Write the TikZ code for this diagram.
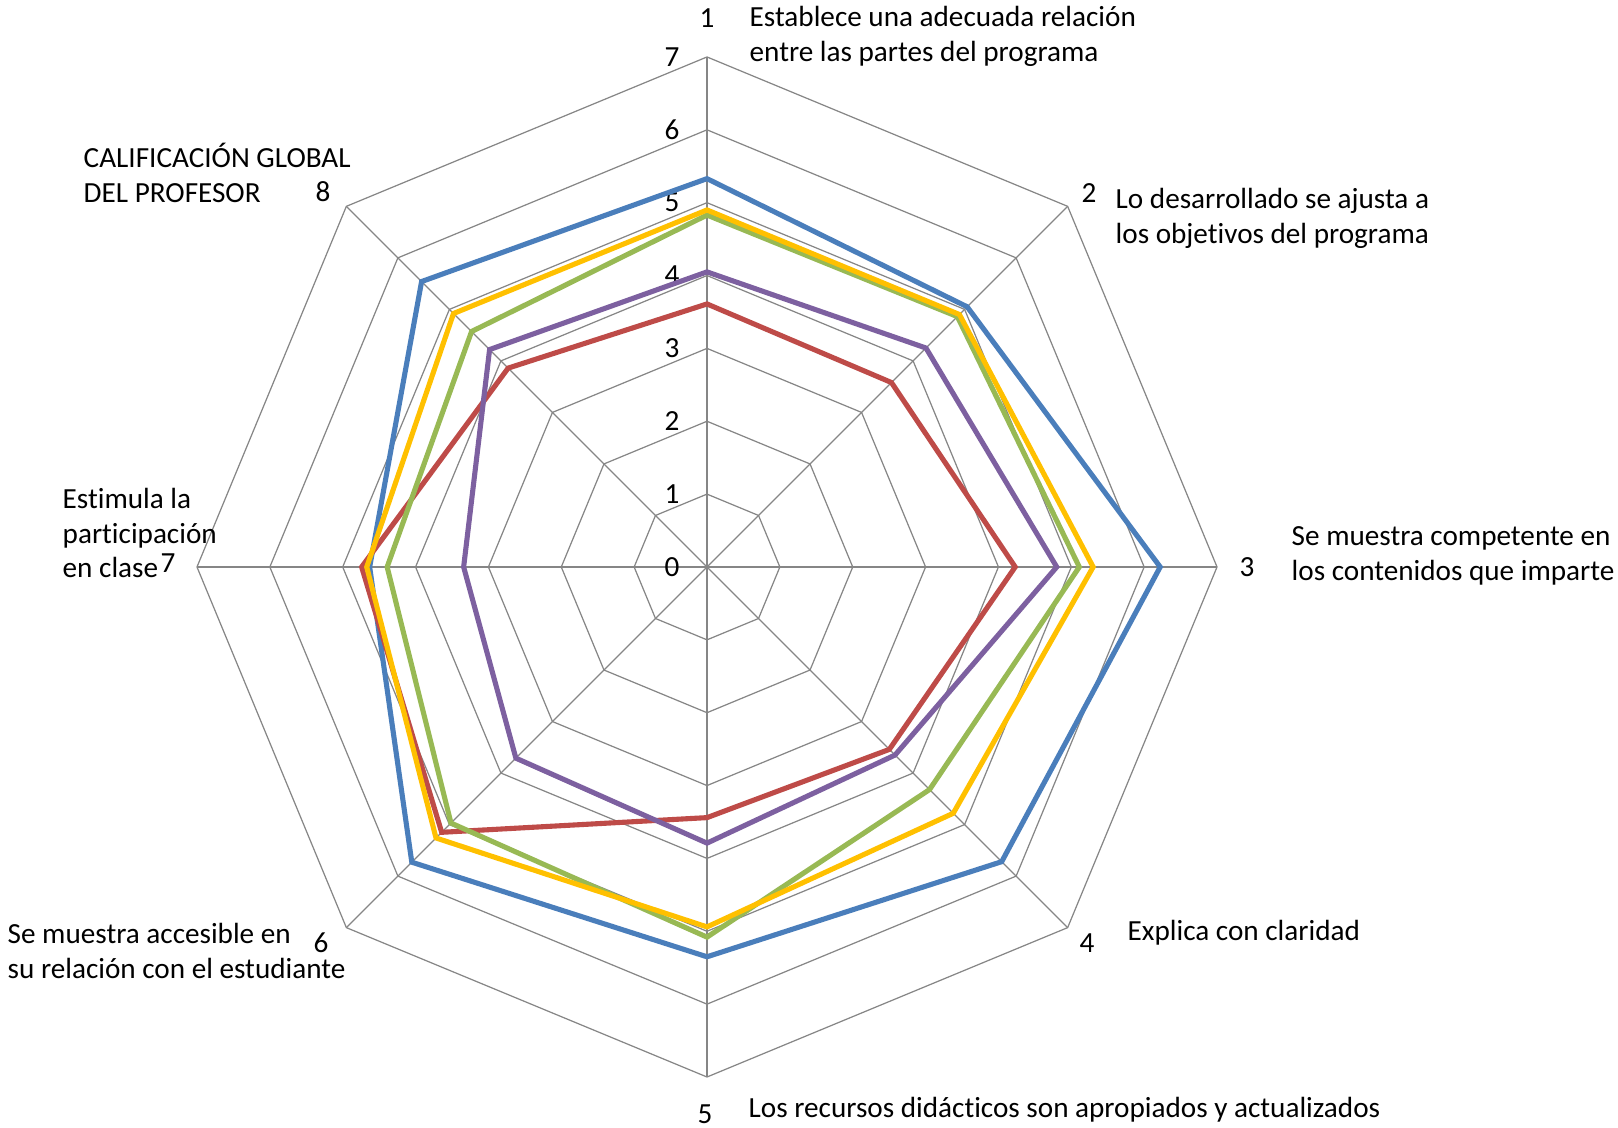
\documentclass[tikz,border=0pt]{standalone}
\usepackage{fontspec}
\setmainfont{Carlito}[Ligatures={NoCommon}]
\usetikzlibrary{positioning}

\definecolor{rejillagris}{HTML}{868686}
\definecolor{azul}{HTML}{4A7EBB}
\definecolor{rojo}{HTML}{BE4B48}
\definecolor{verde}{HTML}{98B954}
\definecolor{morado}{HTML}{7D60A0}
\definecolor{amarillo}{HTML}{FFC000}

\tikzset{
	rejilla/.style={draw=rejillagris, line width=0.35pt},
	serie/.style={line width=1.45pt, line join=miter},
	etiqueta/.style={font=\fontsize{8.3}{9.9}\selectfont, align=left, inner sep=0pt, anchor=west},
	numero/.style={font=\fontsize{8.3}{9.9}\selectfont, inner sep=0pt}
}

\begin{document}
\begin{tikzpicture}[x=0.01cm, y=0.01cm]
				\useasboundingbox (0,0) rectangle (1618,1128);
				\def\unidad{72.86}
				
				% Grid
				\begin{scope}[shift={(707,561)}]
				\coordinate (centro) at (0,0);
				\foreach \i in {1,...,8}
					\coordinate (eje\i) at ({90-45*(\i-1)}:{7*\unidad});
				\foreach \r in {1,...,7}
					\draw[rejilla] (90:{\r*\unidad}) \foreach \a in {45,0,...,-225} { -- (\a:{\r*\unidad}) } -- cycle;
				\foreach \i in {1,...,8}
					\draw[rejilla] (centro) -- (eje\i);
				\foreach \r in {0,...,7}
					\node[numero] (escala\r) at (-35,{\r*\unidad}) {\r};
				
				% Series
				\foreach \col/\vals in {
						azul/{5.33,5.05,6.22,5.72,5.35,5.73,4.63,5.54},
						rojo/{3.61,3.58,4.23,3.54,3.44,5.15,4.74,3.86},
						morado/{4.05,4.25,4.80,3.65,3.79,3.71,3.34,4.22},
						verde/{4.83,4.86,5.11,4.32,5.08,4.97,4.39,4.57},
						amarillo/{4.90,4.90,5.30,4.78,4.94,5.26,4.67,4.92}} {
					\foreach \v [count=\i] in \vals
						\coordinate (\col\i) at ({90-45*(\i-1)}:{\v*\unidad});
					\draw[serie, draw=\col] (\col1) -- (\col2) -- (\col3) -- (\col4) -- (\col5) -- (\col6) -- (\col7) -- (\col8) -- cycle;
				}
				\end{scope}
				
				% Axis numbers
				\node[numero] (n1) at (707,1110) {1};
				\node[numero] (n2) at (1089,935) {2};
				\node[numero] (n3) at (1247,561) {3};
				\node[numero] (n4) at (1087,185) {4};
				\node[numero] (n5) at (705,14) {5};
				\node[numero] (n6) at (321,185) {6};
				\node[numero] (n7) at (168,565) {7};
				\node[numero] (n8) at (323,936) {8};
				
				% Axis texts
				\node[etiqueta] (t1) at (749,1092) {Establece una adecuada relación\\entre las partes del programa};
				\node[etiqueta] (t2) at (1115,910) {Lo desarrollado se ajusta a\\los objetivos del programa};
				\node[etiqueta] (t3) at (1291,572) {Se muestra competente en\\los contenidos que imparte};
				\node[etiqueta] (t4) at (1127,195) {Explica con claridad};
				\node[etiqueta] (t5) at (748,18) {Los recursos didácticos son apropiados y actualizados};
				\node[etiqueta] (t6) at (7,177) {Se muestra accesible en\\su relación con el estudiante};
				\node[etiqueta] (t7) at (62,595) {Estimula la\\participación\\en clase};
				\node[etiqueta] (t8) at (83,955) {CALIFICACIÓN GLOBAL\\DEL PROFESOR};
			\end{tikzpicture}
\end{document}
